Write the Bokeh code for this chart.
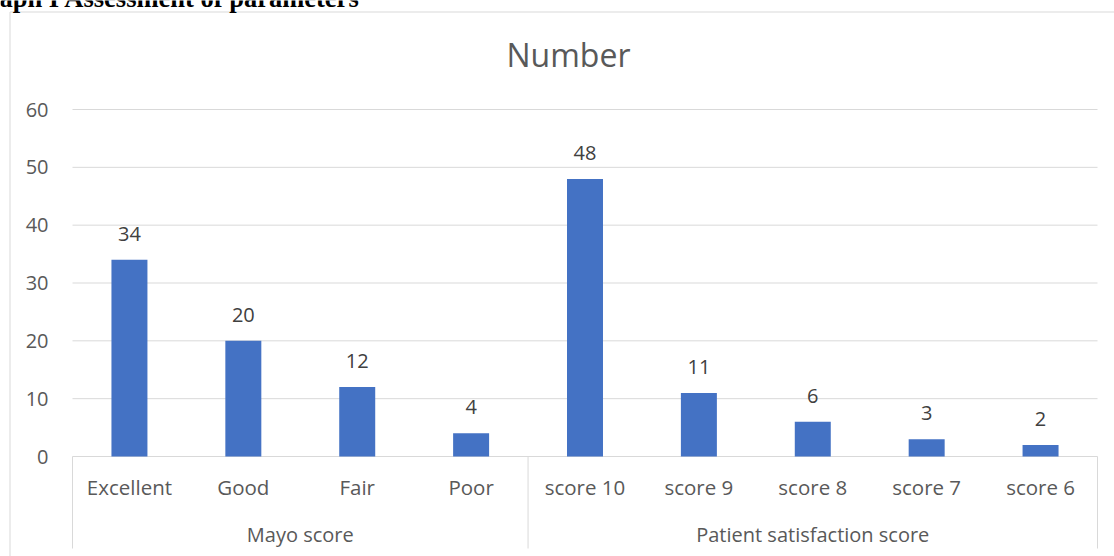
from bokeh.plotting import figure
from bokeh.models import Range1d, LinearAxis, FixedTicker, ColumnDataSource
from bokeh.core.properties import value
from bokeh.embed import file_html
from bokeh.resources import INLINE

# ---------------- data ----------------
categories = ["Excellent", "Good", "Fair", "Poor",
              "score 10", "score 9", "score 8", "score 7", "score 6"]
group_of = ["Mayo score"] * 4 + ["Patient satisfaction score"] * 5
counts = [34, 20, 12, 4, 48, 11, 6, 3, 2]
y_ticks = [0, 10, 20, 30, 40, 50, 60]
chart_title = "Number"
header_text = "aph I Assessment of parameters"

# ---------------- layout helpers (pixels -> data) ----------------
W, H = 1114, 556
PL, PR = 72, 1097          # plot-area left / right in px
Y0, YTOP = 456, 109        # pixel rows of y=0 and y=60
n = len(categories)
sw = (PR - PL) / n
upp = (Y0 - YTOP) / max(y_ticks)


def dx(px):
    return (px - PL) / sw


def dy(py):
    return (Y0 - py) / upp


FONT = "Open Sans"
GRAY_TXT = "#595959"
LINE = "#D9D9D9"

p = figure(width=W, height=H,
           x_range=Range1d(dx(0), dx(W)), y_range=Range1d(dy(H), dy(0)),
           x_axis_location=None, y_axis_location=None,
           min_border=0, min_border_left=0, min_border_right=0,
           min_border_top=0, min_border_bottom=0,
           toolbar_location=None, output_backend="svg")
for g in p.grid:
    g.visible = False
p.outline_line_color = None
p.background_fill_color = "white"
p.border_fill_color = "white"

# chart border (outer frame of the Excel chart)
p.segment(x0=[dx(9.5), dx(9.5)], y0=[dy(11.5), dy(11.5)],
          x1=[dx(9.5), dx(W + 5)], y1=[dy(H + 5), dy(11.5)],
          line_color=LINE, line_width=1)

# gridlines
p.segment(x0=[0] * len(y_ticks), x1=[n] * len(y_ticks), y0=y_ticks, y1=y_ticks,
          line_color=LINE, line_width=1)

# category separators (vertical lines under the axis)
bounds = [0]
for i in range(1, n):
    if group_of[i] != group_of[i - 1]:
        bounds.append(i)
bounds.append(n)
p.segment(x0=bounds, x1=bounds, y0=[0] * len(bounds), y1=[dy(548)] * len(bounds),
          line_color=LINE, line_width=1)

# bars
xc = [i + 0.5 for i in range(n)]
src = ColumnDataSource(dict(x=xc, top=counts, lab=[str(c) for c in counts]))
p.vbar(x="x", top="top", width=0.316, source=src,
       fill_color="#4472C4", line_color=None)

# data labels
p.text(x="x", y="top", text="lab", source=src, y_offset=-26,
       text_align="center", text_baseline="alphabetic",
       text_font=value(FONT), text_font_size="20px", text_color="#404040")

# group labels
gx, gname = [], []
for a, b in zip(bounds[:-1], bounds[1:]):
    gx.append((a + b) / 2)
    gname.append(group_of[a])
p.text(x=gx, y=[dy(534)] * len(gx), text=gname,
       text_align="center", text_baseline="middle",
       text_font=value(FONT), text_font_size="20px", text_color=GRAY_TXT)

# title
p.text(x=[dx(568)], y=[dy(54)], text=[chart_title],
       text_align="center", text_baseline="middle",
       text_font=value(FONT), text_font_size="32px", text_color=GRAY_TXT)

# header text (cut off at top of the image)
p.text(x=[dx(-1)], y=[dy(-3)], text=[header_text],
       text_align="left", text_baseline="alphabetic",
       text_font=value("Liberation Serif"), text_font_style="bold",
       text_font_size="26.5px", text_color="black")

# y axis
yax = LinearAxis(fixed_location=0, ticker=FixedTicker(ticks=y_ticks))
yax.axis_line_color = None
yax.major_tick_line_color = None
yax.minor_tick_line_color = None
yax.major_label_standoff = 18
yax.major_label_text_font = FONT
yax.major_label_text_font_size = "20px"
yax.major_label_text_color = GRAY_TXT
p.add_layout(yax, "left")

# x axis (category labels)
xax = LinearAxis(fixed_location=0, ticker=FixedTicker(ticks=xc))
xax.major_label_overrides = {x: c for x, c in zip(xc, categories)}
xax.axis_line_color = None
xax.major_tick_line_color = None
xax.minor_tick_line_color = None
xax.major_label_standoff = 10
xax.major_label_text_font = FONT
xax.major_label_text_font_size = "20.5px"
xax.major_label_text_color = GRAY_TXT
p.add_layout(xax, "below")

open("out.html", "w").write(file_html(p, INLINE))
